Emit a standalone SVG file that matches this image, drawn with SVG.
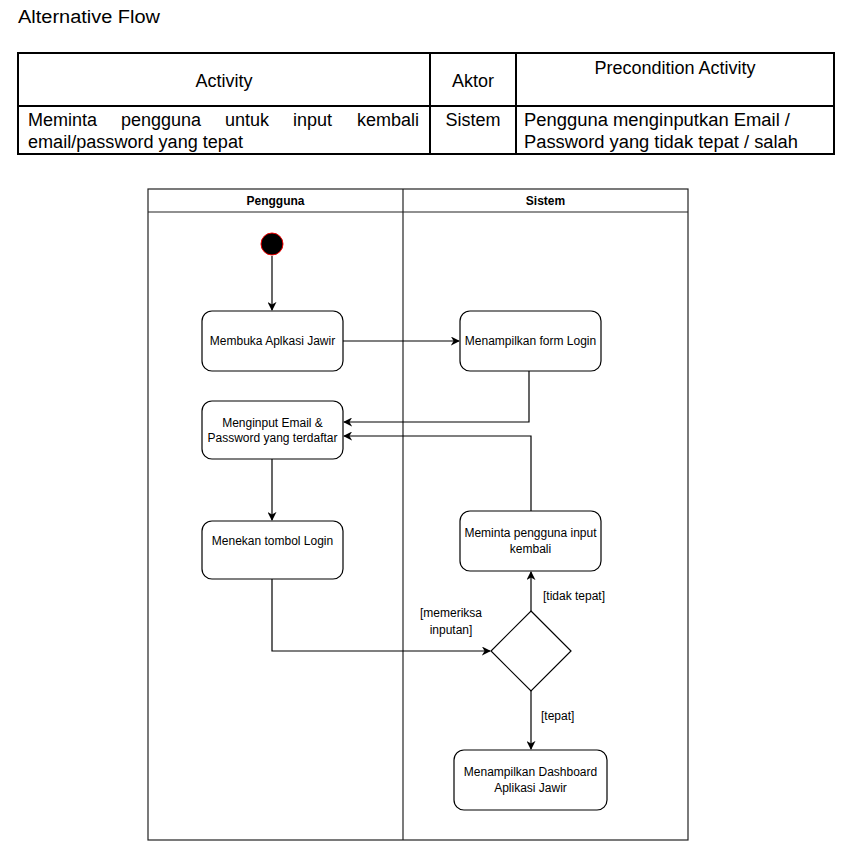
<svg xmlns="http://www.w3.org/2000/svg" width="856" height="849" viewBox="0 0 856 849">
  <style>
    .tt { font-family: "Liberation Sans", Arial, sans-serif; font-size: 18px; fill: #000; }
    .lbl { font-family: "Liberation Sans", Arial, sans-serif; font-size: 12px; fill: #000; }
    .hdr { font-family: "Liberation Sans", Arial, sans-serif; font-size: 12px; font-weight: bold; fill: #000; }
    .grid { stroke: #000; stroke-width: 2; fill: none; }
    .lane { stroke: #222; stroke-width: 1.2; fill: none; }
    .act { fill: #fff; stroke: #000; stroke-width: 1.2; }
    .edge { stroke: #000; stroke-width: 1.2; fill: none; }
  </style>
  <defs>
    <marker id="arr" viewBox="0 0 10 10" refX="9" refY="5" markerWidth="9" markerHeight="9" markerUnits="userSpaceOnUse" orient="auto">
      <path d="M0,0 L10,5 L0,10 L3,5 Z" fill="#000"/>
    </marker>
  </defs>
  <rect width="856" height="849" fill="#fff"/>

  <!-- Title -->
  <text class="tt" x="18" y="23" textLength="142" lengthAdjust="spacingAndGlyphs">Alternative Flow</text>

  <!-- Table -->
  <g id="table">
    <rect class="grid" x="18" y="53" width="816" height="101"/>
    <line class="grid" x1="18" y1="106" x2="834" y2="106"/>
    <line class="grid" x1="430" y1="53" x2="430" y2="154"/>
    <line class="grid" x1="516" y1="53" x2="516" y2="154"/>
    <text class="tt" x="224" y="87" text-anchor="middle">Activity</text>
    <text class="tt" x="473" y="87" text-anchor="middle">Aktor</text>
    <text class="tt" x="675" y="74" text-anchor="middle">Precondition Activity</text>
    <text class="tt" x="28" y="126">Meminta</text>
    <text class="tt" x="121" y="126">pengguna</text>
    <text class="tt" x="225" y="126">untuk</text>
    <text class="tt" x="293" y="126">input</text>
    <text class="tt" x="419" y="126" text-anchor="end">kembali</text>
    <text class="tt" x="28" y="148" textLength="215" lengthAdjust="spacingAndGlyphs">email/password yang tepat</text>
    <text class="tt" x="473" y="126" text-anchor="middle">Sistem</text>
    <text class="tt" x="524" y="126" textLength="266" lengthAdjust="spacingAndGlyphs">Pengguna menginputkan Email /</text>
    <text class="tt" x="524" y="148" textLength="274" lengthAdjust="spacingAndGlyphs">Password yang tidak tepat / salah</text>
  </g>

  <!-- Swimlanes -->
  <g id="lanes">
    <rect class="lane" x="148" y="189" width="540" height="651"/>
    <line class="lane" x1="148" y1="212" x2="688" y2="212"/>
    <line class="lane" x1="403" y1="189" x2="403" y2="840"/>
    <text class="hdr" x="275.5" y="205" text-anchor="middle">Pengguna</text>
    <text class="hdr" x="545.5" y="205" text-anchor="middle">Sistem</text>
  </g>

  <!-- Connectors -->
  <g id="connectors">
    <path class="edge" d="M272,256 L272,310" marker-end="url(#arr)"/>
    <path class="edge" d="M343,341 L459,341" marker-end="url(#arr)"/>
    <path class="edge" d="M529,371 L529,422 L344,422" marker-end="url(#arr)"/>
    <path class="edge" d="M531,511 L531,436 L344,436" marker-end="url(#arr)"/>
    <path class="edge" d="M272,459 L272,520" marker-end="url(#arr)"/>
    <path class="edge" d="M272,579 L272,651 L490,651" marker-end="url(#arr)"/>
    <path class="edge" d="M531,611 L531,572" marker-end="url(#arr)"/>
    <path class="edge" d="M531,691 L531,749" marker-end="url(#arr)"/>
    <text class="lbl" x="543" y="600">[tidak tepat]</text>
    <text class="lbl" x="451" y="617" text-anchor="middle">[memeriksa</text>
    <text class="lbl" x="451" y="634" text-anchor="middle">inputan]</text>
    <text class="lbl" x="541" y="720">[tepat]</text>
  </g>

  <!-- Nodes -->
  <g id="start">
    <circle cx="272" cy="244" r="11" fill="#000" stroke="#e00" stroke-width="1"/>
  </g>
  <g id="membuka">
    <rect class="act" x="202" y="311" width="141" height="60" rx="10"/>
    <text class="lbl" x="272.5" y="345" text-anchor="middle">Membuka Aplkasi Jawir</text>
  </g>
  <g id="form-login">
    <rect class="act" x="460" y="311" width="141" height="60" rx="10"/>
    <text class="lbl" x="530.5" y="345" text-anchor="middle">Menampilkan form Login</text>
  </g>
  <g id="menginput">
    <rect class="act" x="202" y="401" width="141" height="58" rx="10"/>
    <text class="lbl" x="272.5" y="427" text-anchor="middle">Menginput Email &amp;</text>
    <text class="lbl" x="272.5" y="442" text-anchor="middle">Password yang terdaftar</text>
  </g>
  <g id="menekan">
    <rect class="act" x="202" y="521" width="141" height="58" rx="10"/>
    <text class="lbl" x="272.5" y="545" text-anchor="middle">Menekan tombol Login</text>
  </g>
  <g id="meminta">
    <rect class="act" x="460" y="511" width="141" height="60" rx="10"/>
    <text class="lbl" x="530.5" y="537" text-anchor="middle">Meminta pengguna input</text>
    <text class="lbl" x="530.5" y="553" text-anchor="middle">kembali</text>
  </g>
  <g id="decision">
    <polygon class="act" points="531,611 571,651 531,691 491,651"/>
  </g>
  <g id="dashboard">
    <rect class="act" x="454" y="750" width="153" height="60" rx="10"/>
    <text class="lbl" x="530.5" y="776" text-anchor="middle">Menampilkan Dashboard</text>
    <text class="lbl" x="530.5" y="792" text-anchor="middle">Aplikasi Jawir</text>
  </g>
</svg>
